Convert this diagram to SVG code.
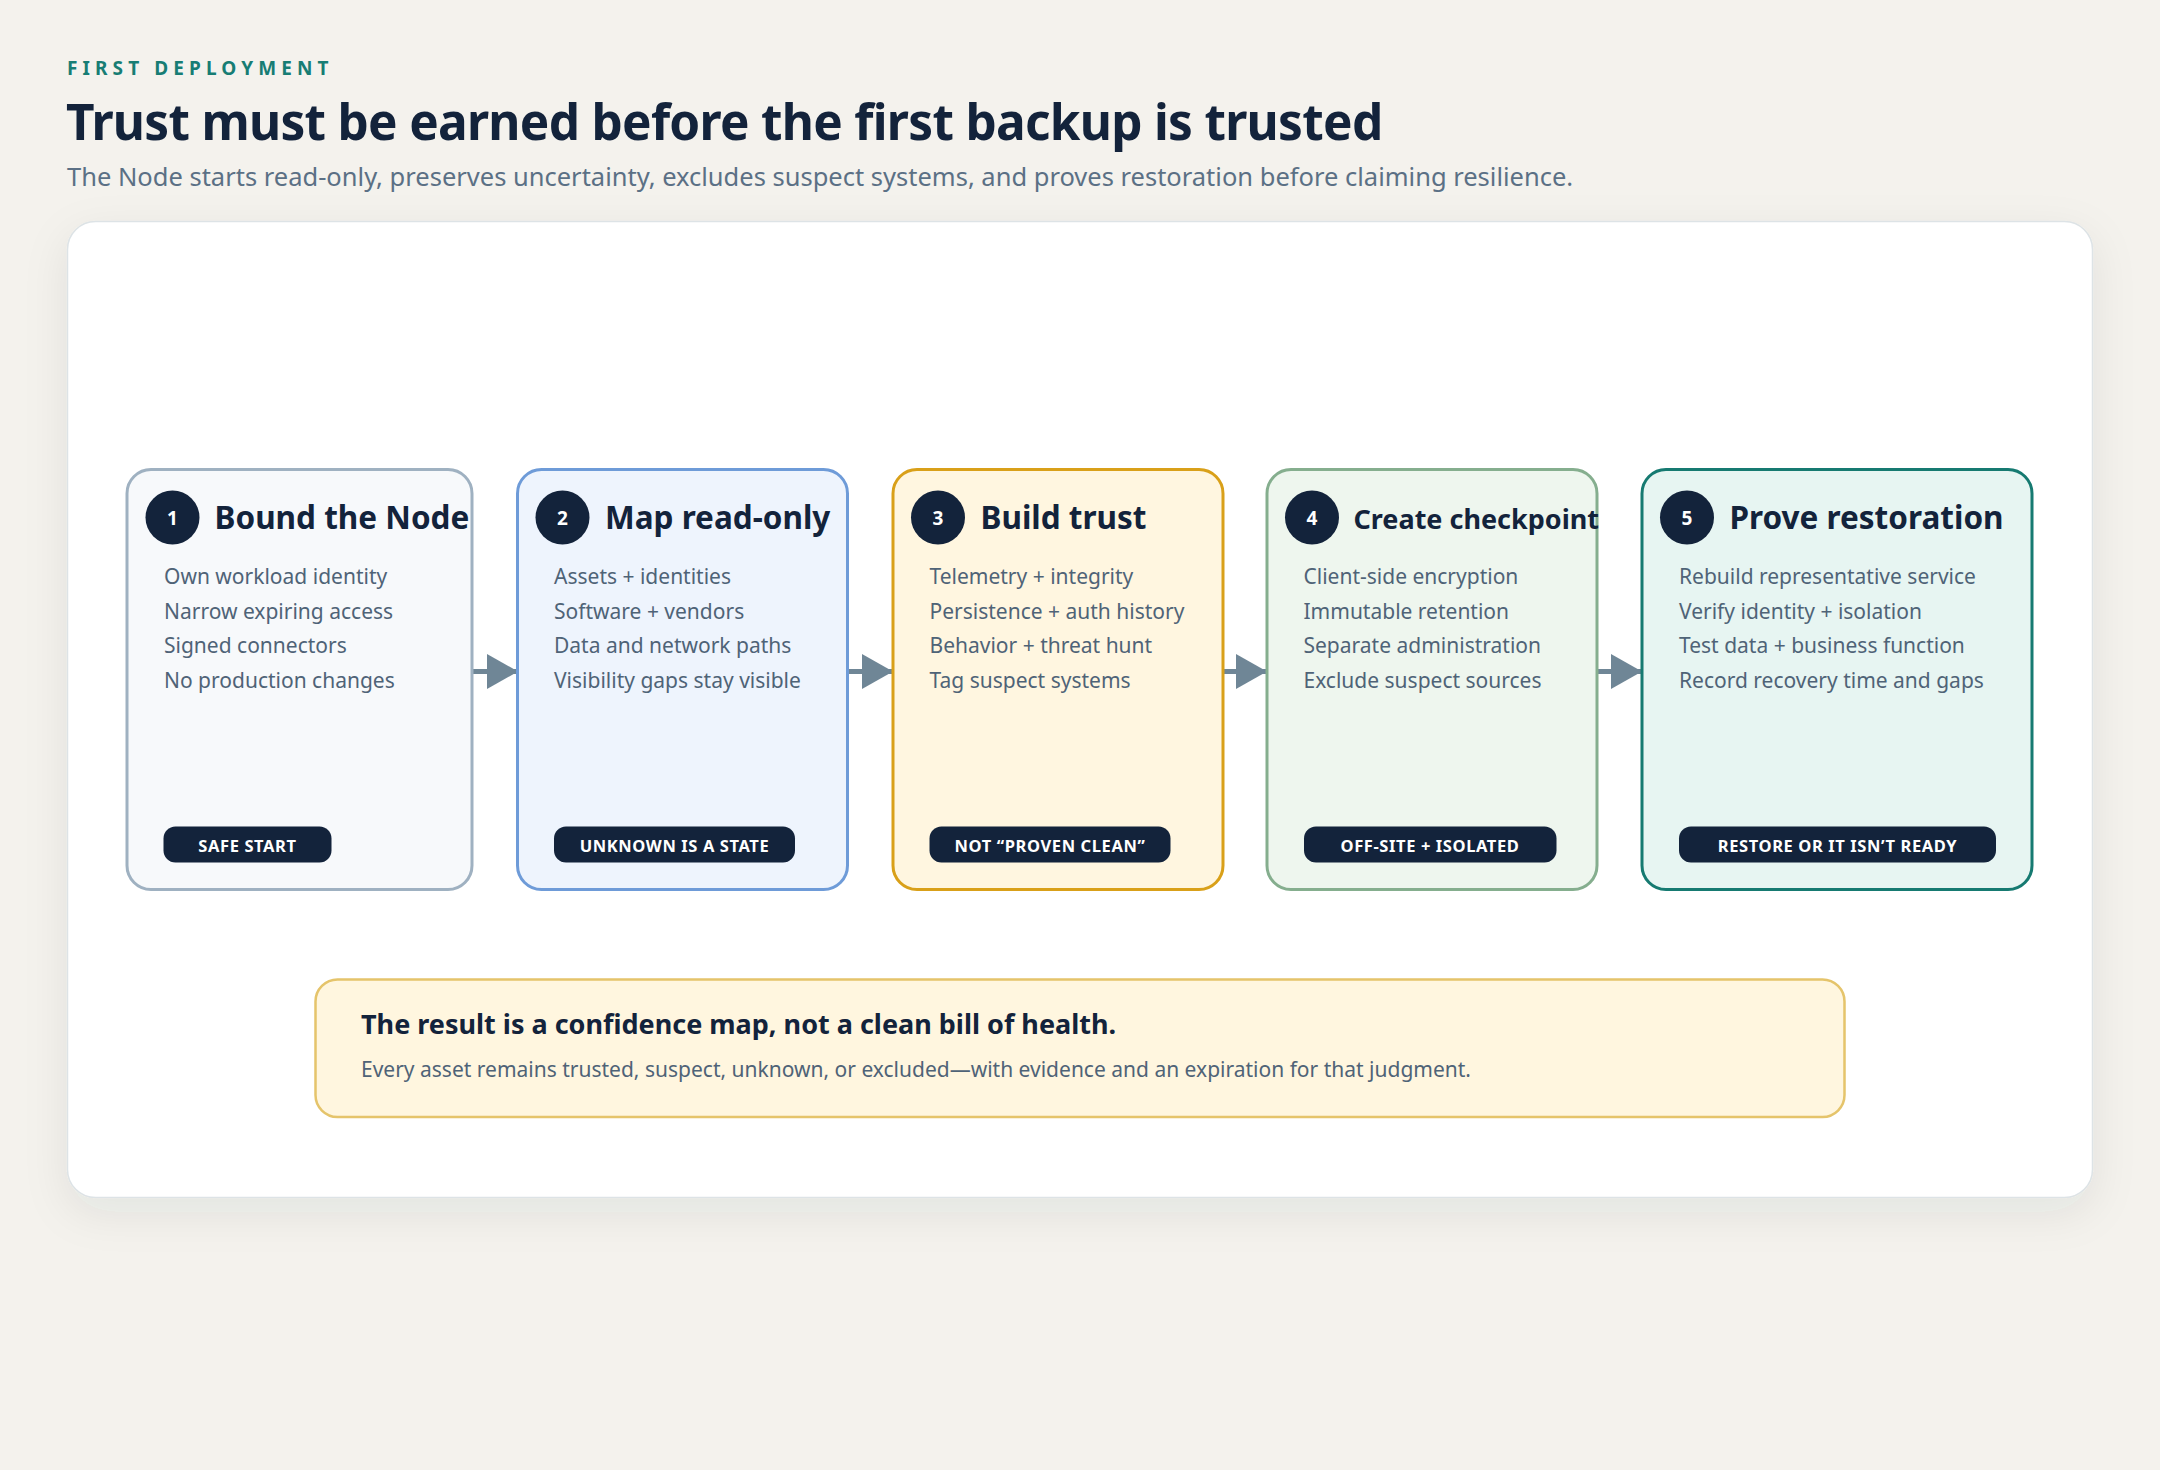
<svg xmlns="http://www.w3.org/2000/svg" width="2160" height="1470" viewBox="0 0 2160 1470">
  <defs>
    <filter id="shadow" x="-10%" y="-10%" width="120%" height="130%">
      <feDropShadow dx="0" dy="14" stdDeviation="22" flood-color="#2a3a3a" flood-opacity="0.08"/>
    </filter>
    <marker id="arrow" viewBox="0 0 31 35" refX="31" refY="17.5" markerWidth="31" markerHeight="35" markerUnits="userSpaceOnUse" orient="auto">
      <path d="M0,0 L31,17.5 L0,35 Z" fill="#6f8696"/>
    </marker>
    <style>
      .card { stroke-width: 3; }
      .badge { fill: #13233b; }
      .num { font-family: "Noto Sans", sans-serif; font-weight: 700; font-size: 19px; fill: #ffffff; text-anchor: middle; }
      .ctitle { font-family: "Noto Sans", sans-serif; font-weight: 700; font-size: 31.5px; fill: #13233b; }
      .body { font-family: "Noto Sans", sans-serif; font-size: 21px; fill: #4f6377; }
      .pill { fill: #13233b; }
      .pilltext { font-family: "Noto Sans", sans-serif; font-weight: 700; font-size: 16.5px; letter-spacing: 0.6px; fill: #ffffff; text-anchor: middle; }
      .conn { stroke: #6f8696; stroke-width: 5; fill: none; }
    </style>
  </defs>

  <rect x="0" y="0" width="2160" height="1470" fill="#f4f2ed"/>

  <g id="header">
    <text x="67" y="74.5" font-family="Noto Sans, sans-serif" font-weight="700" font-size="19" letter-spacing="5.1" fill="#177d74">FIRST DEPLOYMENT</text>
    <text x="66" y="140" font-family="Noto Sans, sans-serif" font-weight="700" font-size="49.5" letter-spacing="-0.7" fill="#13233b">Trust must be earned before the first backup is trusted</text>
    <text x="67" y="185.5" font-family="Noto Sans, sans-serif" font-size="25.5" fill="#5b7085">The Node starts read-only, preserves uncertainty, excludes suspect systems, and proves restoration before claiming resilience.</text>
  </g>

  <g id="container">
    <rect x="67.5" y="221.5" width="2025" height="976" rx="28" fill="#ffffff" stroke="#dde3e6" stroke-width="1.5" filter="url(#shadow)"/>
  </g>

  <g id="connectors">
    <line class="conn" x1="473" y1="671.5" x2="518" y2="671.5" marker-end="url(#arrow)"/>
    <line class="conn" x1="848" y1="671.5" x2="893" y2="671.5" marker-end="url(#arrow)"/>
    <line class="conn" x1="1224" y1="671.5" x2="1267" y2="671.5" marker-end="url(#arrow)"/>
    <line class="conn" x1="1598" y1="671.5" x2="1642" y2="671.5" marker-end="url(#arrow)"/>
  </g>

  <g id="step1">
    <rect class="card" x="127" y="469.5" width="345" height="420" rx="24" fill="#f7f9fb" stroke="#9fb1c1"/>
    <circle class="badge" cx="172.5" cy="517.5" r="27"/>
    <text class="num" x="172.5" y="524.5">1</text>
    <text class="ctitle" x="214.5" y="528.5">Bound the Node</text>
    <text class="body" x="164" y="584">Own workload identity</text>
    <text class="body" x="164" y="618.5">Narrow expiring access</text>
    <text class="body" x="164" y="653">Signed connectors</text>
    <text class="body" x="164" y="687.5">No production changes</text>
    <rect class="pill" x="163.5" y="826.5" width="168" height="36" rx="12"/>
    <text class="pilltext" x="247.5" y="851.5">SAFE START</text>
  </g>

  <g id="step2">
    <rect class="card" x="517.5" y="469.5" width="330" height="420" rx="24" fill="#eef4fd" stroke="#6e9bd8"/>
    <circle class="badge" cx="562.5" cy="517.5" r="27"/>
    <text class="num" x="562.5" y="524.5">2</text>
    <text class="ctitle" x="605" y="528.5">Map read-only</text>
    <text class="body" x="554" y="584">Assets + identities</text>
    <text class="body" x="554" y="618.5">Software + vendors</text>
    <text class="body" x="554" y="653">Data and network paths</text>
    <text class="body" x="554" y="687.5">Visibility gaps stay visible</text>
    <rect class="pill" x="554" y="826.5" width="241" height="36" rx="12"/>
    <text class="pilltext" x="674.5" y="851.5">UNKNOWN IS A STATE</text>
  </g>

  <g id="step3">
    <rect class="card" x="893" y="469.5" width="330" height="420" rx="24" fill="#fff6e0" stroke="#d9a019"/>
    <circle class="badge" cx="938" cy="517.5" r="27"/>
    <text class="num" x="938" y="524.5">3</text>
    <text class="ctitle" x="980.5" y="528.5">Build trust</text>
    <text class="body" x="929.5" y="584">Telemetry + integrity</text>
    <text class="body" x="929.5" y="618.5">Persistence + auth history</text>
    <text class="body" x="929.5" y="653">Behavior + threat hunt</text>
    <text class="body" x="929.5" y="687.5">Tag suspect systems</text>
    <rect class="pill" x="929.5" y="826.5" width="241" height="36" rx="12"/>
    <text class="pilltext" x="1050" y="851.5">NOT “PROVEN CLEAN”</text>
  </g>

  <g id="step4">
    <rect class="card" x="1267" y="469.5" width="330" height="420" rx="24" fill="#eef6ee" stroke="#85ae8e"/>
    <circle class="badge" cx="1312" cy="517.5" r="27"/>
    <text class="num" x="1312" y="524.5">4</text>
    <text class="ctitle" x="1353.5" y="528.5" style="font-size:27px">Create checkpoint</text>
    <text class="body" x="1303.5" y="584">Client-side encryption</text>
    <text class="body" x="1303.5" y="618.5">Immutable retention</text>
    <text class="body" x="1303.5" y="653">Separate administration</text>
    <text class="body" x="1303.5" y="687.5">Exclude suspect sources</text>
    <rect class="pill" x="1304" y="826.5" width="252.5" height="36" rx="12"/>
    <text class="pilltext" x="1430" y="851.5">OFF-SITE + ISOLATED</text>
  </g>

  <g id="step5">
    <rect class="card" x="1642" y="469.5" width="390" height="420" rx="24" fill="#e7f5f2" stroke="#167a71"/>
    <circle class="badge" cx="1687" cy="517.5" r="27"/>
    <text class="num" x="1687" y="524.5">5</text>
    <text class="ctitle" x="1729.5" y="528.5">Prove restoration</text>
    <text class="body" x="1679" y="584">Rebuild representative service</text>
    <text class="body" x="1679" y="618.5">Verify identity + isolation</text>
    <text class="body" x="1679" y="653">Test data + business function</text>
    <text class="body" x="1679" y="687.5">Record recovery time and gaps</text>
    <rect class="pill" x="1679" y="826.5" width="317" height="36" rx="12"/>
    <text class="pilltext" x="1837.5" y="851.5">RESTORE OR IT ISN’T READY</text>
  </g>

  <g id="result">
    <rect x="315.5" y="979.5" width="1529" height="137.5" rx="22" fill="#fff6df" stroke="#e5c46b" stroke-width="2.5"/>
    <text x="361" y="1033.5" font-family="Noto Sans, sans-serif" font-weight="700" font-size="27" fill="#13233b">The result is a confidence map, not a clean bill of health.</text>
    <text x="361" y="1077" font-family="Noto Sans, sans-serif" font-size="21" fill="#4f6377">Every asset remains trusted, suspect, unknown, or excluded—with evidence and an expiration for that judgment.</text>
  </g>
</svg>
